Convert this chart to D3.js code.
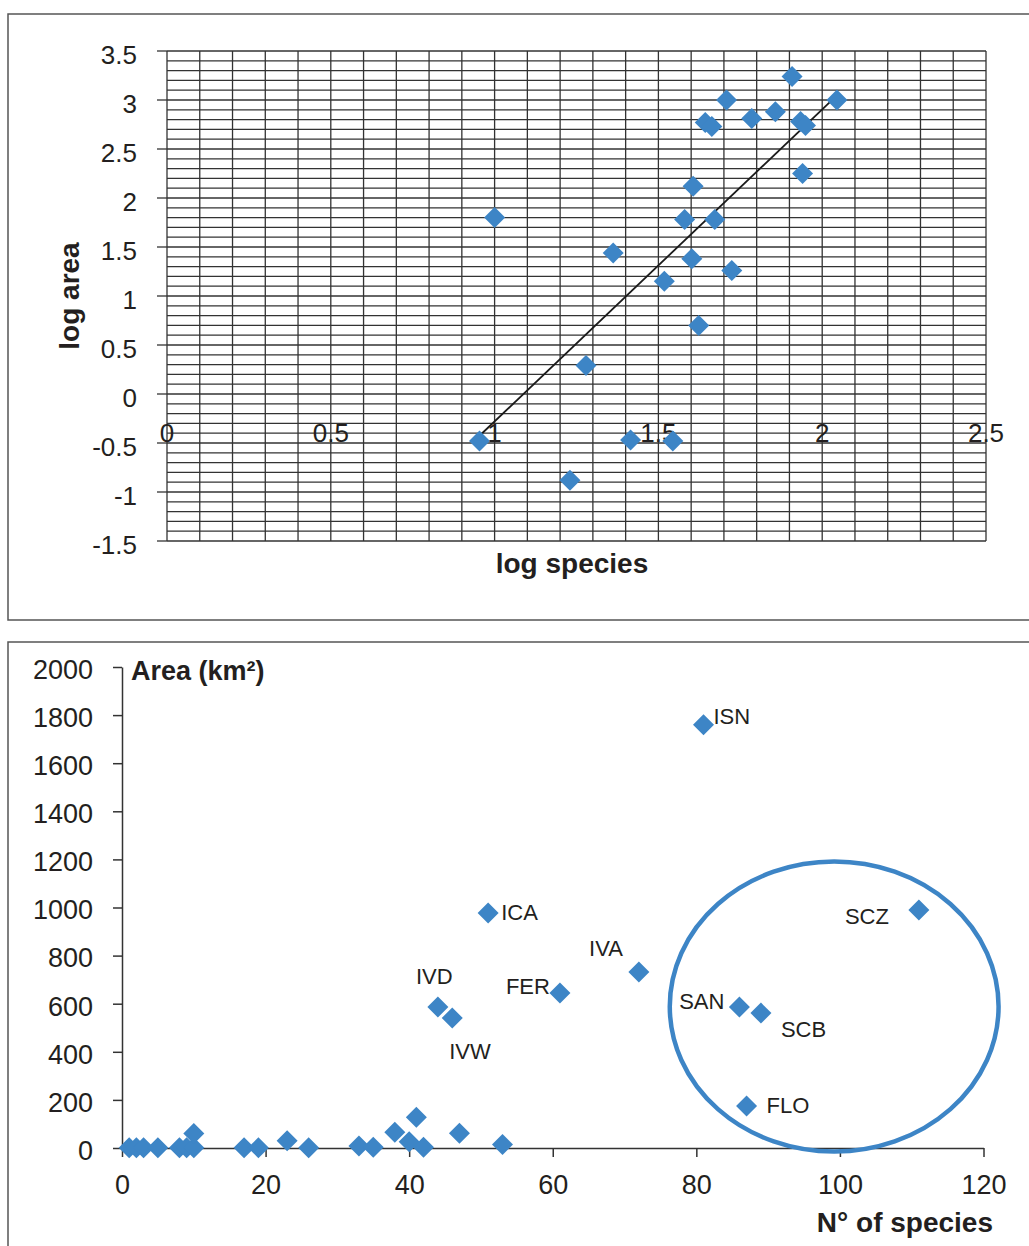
<!DOCTYPE html>
<html>
<head>
<meta charset="utf-8">
<script src="https://cdn.jsdelivr.net/npm/d3@7"></script>
<style>
  body { margin: 0; background: #fff; }
  svg { display: block; font-family: "Liberation Sans", Arial, sans-serif; }
</style>
</head>
<body>
<div id="chart"></div>
<script>
// top panel: log-log values
const logSpecies = [0.954, 1.0, 1.23, 1.279, 1.362, 1.415, 1.518, 1.544, 1.58, 1.602, 1.606, 1.623,
  1.643, 1.663, 1.672, 1.708, 1.724, 1.785, 1.857, 1.908, 1.934, 1.949, 1.94, 2.045];
const logArea = [-0.48, 1.8, -0.88, 0.29, 1.44, -0.47, 1.15, -0.48, 1.78, 1.38, 2.12, 0.7,
  2.77, 2.73, 1.78, 3.0, 1.26, 2.81, 2.88, 3.24, 2.78, 2.74, 2.25, 3.0];
const logXTicks = [0, 0.5, 1, 1.5, 2, 2.5];
const logYTicks = [-1.5, -1, -0.5, 0, 0.5, 1, 1.5, 2, 2.5, 3, 3.5];

// bottom panel: raw values
const islands = ["ISN", "ICA", "SCZ", "IVA", "FER", "IVD", "IVW", "SAN", "SCB", "FLO"];
const islandSpecies = [81, 51, 111, 72, 61, 44, 46, 86, 89, 87];
const islandArea = [1760, 977, 990, 732, 644, 586, 541, 586, 561, 175];
const otherSpecies = [1, 2, 3, 5, 8, 9, 10, 10, 17, 19, 23, 26, 33, 35, 38, 40, 41, 42, 47, 53];
const otherArea = [1, 1, 1, 1, 1, 1, 1, 60, 1, 1, 30, 1, 8, 3, 65, 26, 128, 3, 61, 15];
const areaTicks = [0, 200, 400, 600, 800, 1000, 1200, 1400, 1600, 1800, 2000];
const speciesTicks = [0, 20, 40, 60, 80, 100, 120];

const blue = "#3d85c6";
const gridColor = "#333";
const W = 1029, H = 1246;

const svg = d3.select("#chart").append("svg")
  .attr("width", W).attr("height", H)
  .attr("viewBox", `0 0 ${W} ${H}`);

const diamond = "M0,-10.5L10.5,0L0,10.5L-10.5,0Z";

// ---------- top panel ----------
svg.append("rect").attr("x", 8).attr("y", 14).attr("width", W).attr("height", 606)
  .attr("fill", "none").attr("stroke", "#555").attr("stroke-width", 1.5);

const x1 = d3.scaleLinear().domain([0, 2.5]).range([167, 986]);
const y1 = d3.scaleLinear().domain([-1.5, 3.5]).range([541, 51]);

const topG = svg.append("g");
const vLines = d3.range(0, 26).map(i => i / 10);
const hLines = d3.range(-15, 36).map(i => i / 10);

topG.selectAll(".vgrid").data(vLines).enter().append("line")
  .attr("x1", d => x1(d)).attr("x2", d => x1(d))
  .attr("y1", y1(3.5)).attr("y2", y1(-1.5))
  .attr("stroke", gridColor).attr("stroke-width", 1.3);
topG.selectAll(".hgrid").data(hLines).enter().append("line")
  .attr("x1", x1(0)).attr("x2", x1(2.5))
  .attr("y1", d => y1(d)).attr("y2", d => y1(d))
  .attr("stroke", gridColor).attr("stroke-width", 1.3);

// y ticks
topG.selectAll(".ytick").data(logYTicks).enter().append("line")
  .attr("x1", x1(0) - 10).attr("x2", x1(0))
  .attr("y1", d => y1(d)).attr("y2", d => y1(d))
  .attr("stroke", gridColor).attr("stroke-width", 1.3);
topG.selectAll(".ylab").data(logYTicks).enter().append("text")
  .attr("x", 137).attr("y", d => y1(d) + 13)
  .attr("text-anchor", "end").style("font-size", "26px").attr("fill", "#231f20")
  .text(d => d);
topG.selectAll(".xlab").data(logXTicks).enter().append("text")
  .attr("x", d => x1(d)).attr("y", y1(0) + 48)
  .attr("text-anchor", "middle").style("font-size", "26px").attr("fill", "#231f20")
  .text(d => d);

// regression line (least squares over the points)
const mx = d3.mean(logSpecies), my = d3.mean(logArea);
const sxy = d3.sum(logSpecies, (v, i) => (v - mx) * (logArea[i] - my));
const sxx = d3.sum(logSpecies, v => (v - mx) * (v - mx));
const slope = sxy / sxx, icpt = my - slope * mx;
const [xmin, xmax] = d3.extent(logSpecies);
topG.append("line")
  .attr("x1", x1(xmin)).attr("y1", y1(icpt + slope * xmin))
  .attr("x2", x1(xmax)).attr("y2", y1(icpt + slope * xmax))
  .attr("stroke", "#1a1a1a").attr("stroke-width", 1.8);

topG.selectAll(".pt").data(logSpecies).enter().append("path")
  .attr("d", diamond)
  .attr("transform", (d, i) => `translate(${x1(d)},${y1(logArea[i])})`)
  .attr("fill", blue);

topG.append("text")
  .attr("x", 572).attr("y", 573).attr("text-anchor", "middle")
  .style("font-size", "28px").style("font-weight", "bold").attr("fill", "#231f20")
  .text("log species");
topG.append("text")
  .attr("transform", `translate(79,${(y1(3.5) + y1(-1.5)) / 2}) rotate(-90)`)
  .attr("text-anchor", "middle")
  .style("font-size", "28px").style("font-weight", "bold").attr("fill", "#231f20")
  .text("log area");

// ---------- bottom panel ----------
svg.append("rect").attr("x", 8).attr("y", 642).attr("width", W).attr("height", 700)
  .attr("fill", "none").attr("stroke", "#555").attr("stroke-width", 1.5);

const x2 = d3.scaleLinear().domain([0, 120]).range([122, 983.5]);
const y2 = d3.scaleLinear().domain([0, 2000]).range([1148, 667]);

const botG = svg.append("g");

botG.append("g")
  .attr("transform", `translate(0,${y2(0)})`)
  .call(d3.axisBottom(x2).tickValues(speciesTicks).tickFormat(d3.format("d"))
    .tickSize(9).tickPadding(18).tickSizeOuter(0))
  .call(g => g.selectAll("text").style("font-size", "27px").attr("fill", "#231f20").attr("font-family", null))
  .call(g => g.selectAll("line,path").attr("stroke", "#333").attr("stroke-width", 1.5));

botG.append("g")
  .attr("transform", `translate(${x2(0)},0)`)
  .call(d3.axisLeft(y2).tickValues(areaTicks).tickFormat(d3.format("d"))
    .tickSize(9).tickPadding(20).tickSizeOuter(0))
  .call(g => g.selectAll("text").style("font-size", "27px").attr("fill", "#231f20").attr("font-family", null)
    .attr("dy", "0.42em"))
  .call(g => g.selectAll("line,path").attr("stroke", "#333").attr("stroke-width", 1.5));

// ellipse highlighting the SCZ/SAN/SCB/FLO group
botG.append("ellipse")
  .attr("cx", x2(99.2)).attr("cy", y2(588))
  .attr("rx", x2(122.1) - x2(99.2)).attr("ry", y2(0) - y2(603))
  .attr("fill", "none").attr("stroke", blue).attr("stroke-width", 4.5);

botG.selectAll(".opt").data(otherSpecies).enter().append("path")
  .attr("d", diamond)
  .attr("transform", (d, i) => `translate(${x2(d)},${y2(otherArea[i])})`)
  .attr("fill", blue);

botG.selectAll(".ipt").data(islandSpecies).enter().append("path")
  .attr("d", diamond)
  .attr("transform", (d, i) => `translate(${x2(d)},${y2(islandArea[i])})`)
  .attr("fill", blue);

// label placement relative to each marker
const place = {
  ISN: [10, -1, "start"], ICA: [13, 7, "start"], SCZ: [-30, 14, "end"],
  IVA: [-16, -16, "end"], FER: [-10, 1, "end"], IVD: [-22, -23, "start"],
  IVW: [-3, 41, "start"], SAN: [-15, 2, "end"], SCB: [20, 24, "start"], FLO: [20, 7, "start"]
};
botG.selectAll(".lab").data(islands).enter().append("text")
  .attr("x", (d, i) => x2(islandSpecies[i]) + place[d][0])
  .attr("y", (d, i) => y2(islandArea[i]) + place[d][1])
  .attr("text-anchor", d => place[d][2])
  .style("font-size", "22px").attr("fill", "#231f20")
  .text(d => d);

botG.append("text")
  .attr("x", 131).attr("y", 680)
  .style("font-size", "27px").style("font-weight", "bold").attr("fill", "#231f20")
  .text("Area (km²)");
botG.append("text")
  .attr("x", 993).attr("y", 1232).attr("text-anchor", "end")
  .style("font-size", "28px").style("font-weight", "bold").attr("fill", "#231f20")
  .text("N° of species");
</script>
</body>
</html>
